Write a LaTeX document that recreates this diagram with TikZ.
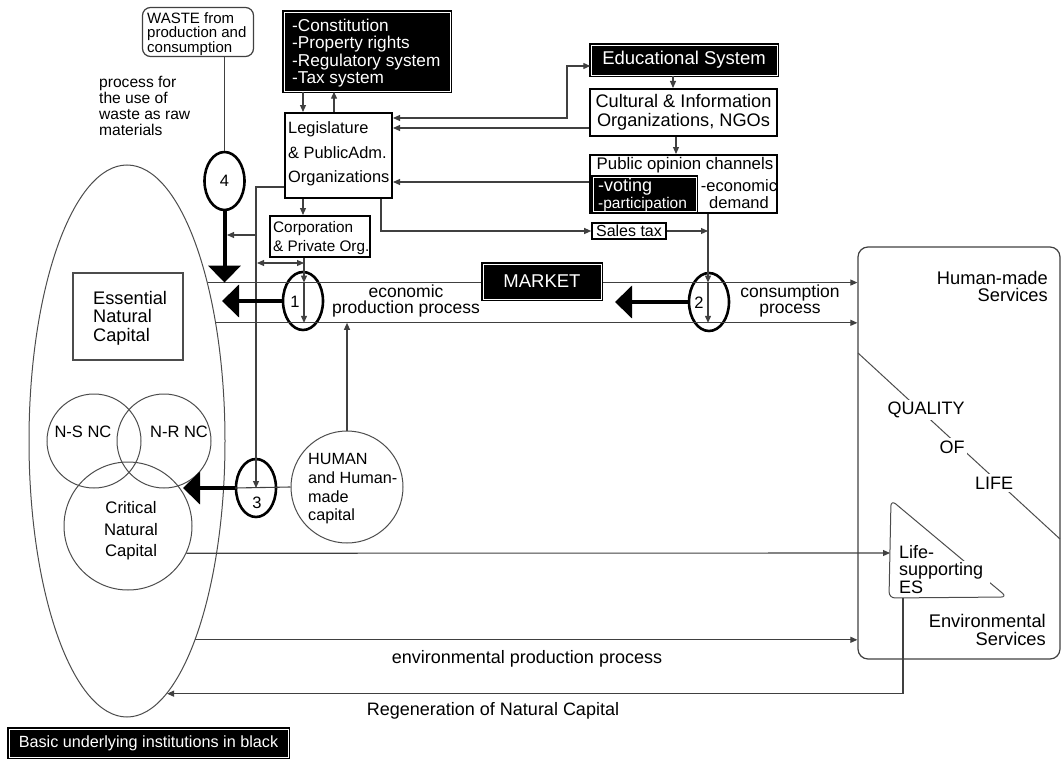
\documentclass[tikz,border=0pt]{standalone}
\usepackage{fontspec}
\setmainfont{Liberation Sans}
\usetikzlibrary{arrows.meta,shapes.geometric,calc}

\newcommand\fsz[2]{\fontsize{#1}{#2}\selectfont}

\begin{document}
\begin{tikzpicture}[x=1pt,y=-1pt,
  ln/.style={draw=black!75, line width=1.1pt},
  arr/.style={ln,-{Triangle[length=7pt,width=6pt]}},
  darr/.style={ln,{Triangle[length=7pt,width=6pt]}-{Triangle[length=7pt,width=6pt]}},
  bigarr/.style={draw=black, line width=4pt,-{Triangle[length=17pt,width=32pt]}},
  wbox/.style={draw=black, line width=2pt, inner sep=0pt, fill=white},
  blackbox/.style={fill=black, draw=black, double=white, double distance=0.9pt, line width=1.4pt, text=white, inner sep=0pt},
  num/.style={ellipse, draw=black, line width=2.6pt, minimum width=40pt, minimum height=58pt, inner sep=0pt, font=\fsz{16.5}{16}},
  circ/.style={circle, draw=black!70, line width=1pt, inner sep=0pt},
  txt/.style={inner sep=0pt, align=left},
]
\useasboundingbox (0,0) rectangle (1063,760);

% reference coordinates for vertical and horizontal runs
\coordinate (x183) at (183,0);
\coordinate (x222) at (222,0);
\coordinate (x227) at (227,0);
\coordinate (x257) at (257,0);
\coordinate (x303) at (303,0);
\coordinate (x304) at (304,0);
\coordinate (x334) at (334,0);
\coordinate (x381) at (381,0);
\coordinate (x567) at (567,0);
\coordinate (x615) at (615,0);
\coordinate (x673) at (673,0);
\coordinate (x676) at (676,0);
\coordinate (x708) at (708,0);
\coordinate (y66) at (0,66);
\coordinate (y118) at (0,118);
\coordinate (y128) at (0,128);
\coordinate (y182) at (0,182);
\coordinate (y187) at (0,187);
\coordinate (y235) at (0,235);
\coordinate (y263) at (0,263);

% ---------------- natural capital ----------------
\node[ellipse, draw=black!70, line width=1pt, minimum width=196, minimum height=552, inner sep=0pt] (nat) at (127,441) {};
\node[draw=black!70, line width=1.2pt, minimum width=110, minimum height=87] (ess) at (128,316.5) {};
\node[txt, anchor=west, font=\fsz{18.2}{18.5}] (esst) at (93,318) {Essential\\Natural\\Capital};
\node[circ, minimum size=94] (ns) at (94,441) {};
\node[circ, minimum size=94] (nr) at (164,441) {};
\node[circ, minimum size=128] (crit) at (128,526) {};
\node[inner sep=0pt, font=\fsz{16.5}{16}] (nst) at (83,432) {N-S NC};
\node[inner sep=0pt, font=\fsz{16.5}{16}] (nrt) at (179,432) {N-R NC};
\node[inner sep=0pt, align=center, font=\fsz{16.7}{21.5}] (critt) at (131,531) {Critical\\Natural\\Capital};

% boundary points of the natural capital ellipse
\coordinate (tlL) at (nat.63.3);
\coordinate (blL) at (nat.53.4);
\coordinate (envL) at (nat.-71.7);
\coordinate (regL) at (nat.-81.86);

% ---------------- waste ----------------
\node[draw=black!75, line width=1.2pt, rounded corners=8pt, minimum width=111, minimum height=49] (waste) at (198,32) {};
\node[txt, anchor=west, font=\fsz{15}{14.5}] (wastet) at (147,34) {WASTE from\\production and\\consumption};
\node[txt, anchor=north west, font=\fsz{15.6}{16}] (proc) at (99,76) {process for\\the use of\\waste as raw\\materials};

% ---------------- institutions ----------------
\node[blackbox, minimum width=166, minimum height=79] (const) at (367,51.5) {};
\node[txt, anchor=west, text=white, font=\fsz{17.2}{17.5}] (constt) at (292,53) {-Constitution\\-Property rights\\-Regulatory system\\-Tax system};
\node[wbox, minimum width=107, minimum height=85] (leg) at (338.5,155.5) {};
\node[txt, anchor=west, font=\fsz{16.4}{24.5}] (legt) at (288,154) {Legislature\\\& PublicAdm.\\Organizations};
\node[wbox, minimum width=100, minimum height=41] (corp) at (320,236.5) {};
\node[txt, anchor=west, font=\fsz{15.3}{19}] (corpt) at (273,238.5) {Corporation\\\& Private Org.};
\node[blackbox, minimum width=186, minimum height=30, font=\fsz{18.5}{18.5}] (edu) at (684,60) {Educational System};
\node[wbox, minimum width=187, minimum height=47, align=center, font=\fsz{18.2}{19}] (cult) at (683.5,112.5) {Cultural \& Information\\Organizations, NGOs};
\node[wbox, minimum width=187, minimum height=58] (pub) at (683.5,184) {};
\node[inner sep=0pt, font=\fsz{16.8}{17}] (pubt) at (685,165) {Public opinion channels};
\node[blackbox, minimum width=103, minimum height=34] (vote) at (644.5,194) {};
\node[txt, anchor=west, text=white, font=\fsz{15.5}{17}] (votet) at (598,195) {{\fsz{18}{17}-voting}\\-participation};
\node[inner sep=0pt, align=center, font=\fsz{16.5}{17}] (econ) at (739,194) {-economic\\demand};
\node[wbox, line width=1.6pt, minimum width=74, minimum height=16, font=\fsz{16}{16}] (sales) at (629,231) {Sales tax};

% ---------------- numbered processes ----------------
\node[num] (n4) at (224.5,181) {4};
\node[num] (n1) at (303,301) {};
\node[inner sep=0pt, font=\fsz{16.5}{16}] (n1t) at (295,302) {1};
\node[num] (n2) at (709,302) {};
\node[inner sep=0pt, font=\fsz{16.5}{16}] (n2t) at (699,303) {2};
\node[num] (n3) at (256,488) {};
\node[inner sep=0pt, font=\fsz{16.5}{16}] (n3t) at (257,503) {3};

% human capital
\node[circ, minimum size=112] (hum) at (347,487) {};
\node[txt, anchor=west, font=\fsz{16.2}{18.7}] (humt) at (308,489) {HUMAN\\and Human-\\made\\capital};

% ---------------- services ----------------
\node[draw=black!75, line width=1.2pt, rounded corners=10pt, minimum width=202, minimum height=412] (hms) at (959,453) {};
\node[txt, anchor=north east, align=right, font=\fsz{18.3}{17}] (hmst) at (1048,271) {Human-made\\Services};
\node[txt, anchor=north east, align=right, font=\fsz{18.3}{18}] (envt) at (1046,614) {Environmental\\Services};

% quality of life diagonal
\coordinate (q1) at (858,353);
\coordinate (q2) at (1060,539);
\draw[draw=black!70, line width=1pt] (q1) -- (q2);
\node[fill=white, inner sep=2.5pt, font=\fsz{18}{18}] (qual) at (926,410) {QUALITY};
\node[fill=white, inner sep=2.5pt, font=\fsz{18}{18}] (qof) at (952,447) {OF};
\node[fill=white, inner sep=2.5pt, font=\fsz{18}{18}] (qlife) at (994,483) {LIFE};

% life-supporting ecosystem services
\coordinate (lsT) at (891,500);
\coordinate (lsR) at (1007,597);
\coordinate (lsBL) at (889,598);
\coordinate (lsW) at (890,553);
\coordinate (lsB) at (903,598);
\draw[draw=black!70, line width=1pt, rounded corners=6pt] (lsT) -- (lsR) -- (lsBL) -- cycle;
\fill[white] (958,561) rectangle (990,584);
\node[txt, anchor=north west, font=\fsz{18}{17.5}] (lst) at (899,545) {Life-\\supporting\\ES};

% ---------------- connectors ----------------
% institutional links
\draw[arr] (x303 |- const.south) -- (x303 |- leg.north);
\draw[arr] (x334 |- leg.north) -- (x334 |- const.south);
\draw[darr] (leg.east |- y118) -- (x567 |- y118) -- (x567 |- y66) -- (edu.west |- y66);
\draw[arr] (x673 |- edu.south) -- (x673 |- cult.north);
\draw[arr] (cult.west |- y128) -- (leg.east |- y128);
\draw[arr] (x676 |- cult.south) -- (x676 |- pub.north);
\draw[arr] (pub.west |- y182) -- (leg.east |- y182);
\draw[arr] (x381 |- leg.south) |- (sales.west);
\draw[arr] (sales.east) -- (sales.east -| x708);
\draw[arr] (x303 |- leg.south) -- (x303 |- corp.north);
\draw[arr] (leg.west |- y187) -| (n3.center);
\draw[arr] (x257 |- y235) -- (x227 |- y235);
\draw[darr] (x257 |- y263) -- (x304 |- y263);

% waste recycling
\draw[ln] (n4.north |- waste.south) -- (n4.north);

% market flows
\draw[arr] (tlL) -- (tlL -| hms.west);
\draw[arr] (blL) -- (blL -| hms.west);
\draw[arr] (x304 |- corp.south) -- (x304 |- tlL);
\draw[arr] (x304 |- tlL) -- (x304 |- blL);
\draw[arr] (x708 |- pub.south) -- (x708 |- tlL);
\draw[arr] (x708 |- tlL) -- (x708 |- blL);
\draw[arr] (hum.north) -- (hum.north |- blL);
\draw[ln] (hum.west) -- (n3.west);

% heavy flows back to natural capital
\draw[bigarr] (n4.south) -- (n4.south |- tlL);
\draw[bigarr] (n1.west) -- (x222 |- n1.west);
\draw[bigarr] (n2.west) -- (x615 |- n2.west);
\draw[bigarr] (n3.west) -- (x183 |- n3.west);

% environmental flows
\draw[arr] (crit.-25) -- (lsW);
\draw[arr] (envL) -- (envL -| hms.west);
\draw[arr] (lsB) -- (lsB |- regL) -- (regL);

\node[blackbox, minimum width=118, minimum height=35, font=\fsz{18.5}{18.5}] (market) at (542,281.5) {MARKET};

% process labels
\node[inner sep=0pt, align=center, font=\fsz{17.5}{16.5}] (epp) at (406,301) {economic\\production process};
\node[inner sep=0pt, align=center, font=\fsz{17.5}{16.5}] (cpp) at (790,301) {consumption\\process};
\node[inner sep=0pt, font=\fsz{18}{18}] (envpp) at (527,659) {environmental production process};
\node[inner sep=0pt, font=\fsz{18}{18}] (regen) at (493,711) {Regeneration of Natural Capital};

% legend
\node[blackbox, minimum width=279, minimum height=28, font=\fsz{16.2}{16}] (basic) at (148.5,743) {Basic underlying institutions in black};
\end{tikzpicture}
\end{document}
